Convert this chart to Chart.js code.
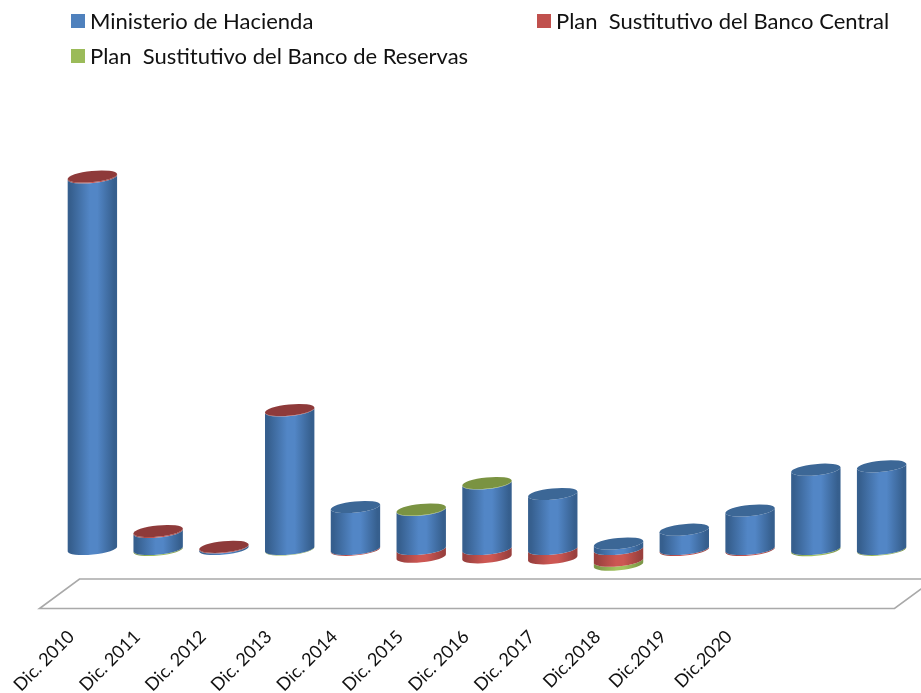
<!DOCTYPE html>
<html><head><meta charset="utf-8">
<style>html,body{margin:0;padding:0;background:#fff}#w{width:921px;height:693px}</style>
<script src="https://cdn.jsdelivr.net/npm/chart.js@4/dist/chart.umd.js"></script>
</head><body><div id="w"><canvas id="c"></canvas></div>
<script>
const categories = ['Dic. 2010','Dic. 2011','Dic. 2012','Dic. 2013','Dic. 2014','Dic. 2015','Dic. 2016','Dic. 2017','Dic.2018','Dic.2019','Dic.2020','',''];
const hacienda = [371.5,17,1.5,138.5,42,39,65.5,55,5.5,19.3,38.5,79.3,82.7];
const central  = [1,1,0.7,0.5,-0.8,-7.7,-8.3,-9.3,-11.7,-1,-1,0,0];
const reservas = [0,-1,0,-0.5,0,0.5,0.5,0,-4,0,0,-1.2,-0.8];
const seriesNames = ['Ministerio de Hacienda','Plan  Sustitutivo del Banco Central','Plan  Sustitutivo del Banco de Reservas'];
const baseColors = ['#4f81bd','#c0504d','#9bbb59'];
const capColors  = ['#3c6796','#8e3a3a','#7a9342'];
const edgeColors = ['#365f8e','#9a403e','#7d9848'];
const lightColors= ['#5286c6','#cc5753','#a3c45f'];
const TILT=-0.1, MINOR=5.6;

function shade(ctx,x,a,i){
  const g=ctx.createLinearGradient(x-a,0,x+a,0);
  g.addColorStop(0,edgeColors[i]);g.addColorStop(.06,edgeColors[i]);
  g.addColorStop(.45,lightColors[i]);g.addColorStop(.6,lightColors[i]);
  g.addColorStop(.94,edgeColors[i]);g.addColorStop(1,edgeColors[i]);
  return g;
}
Chart.BarElement.prototype.draw=function(ctx){
  const top=Math.min(this.y,this.base),bot=Math.max(this.y,this.base);
  if(bot-top<0.05) return;
  const a=this.width/2, i=baseColors.indexOf(this.options.backgroundColor);
  ctx.save();
  ctx.fillStyle=shade(ctx,this.x,a,i);
  ctx.beginPath();
  ctx.ellipse(this.x,bot,a,MINOR,TILT,0,Math.PI);
  ctx.ellipse(this.x,top,a,MINOR,TILT,Math.PI,0,true);
  ctx.closePath();ctx.fill();
  ctx.restore();
};
const scene={
  id:'scene',
  beforeDatasetsDraw(chart){
    const {ctx,chartArea:ca,scales:{y}}=chart;
    const yt=y.getPixelForValue(-30), yb=y.getPixelForValue(-59.5);
    ctx.save();ctx.strokeStyle='#a9a9a9';ctx.lineWidth=1.6;ctx.beginPath();
    ctx.moveTo(ca.left+20,yt);ctx.lineTo(ca.right+20,yt);ctx.lineTo(ca.right-20,yb);
    ctx.lineTo(ca.left-20,yb);ctx.closePath();ctx.stroke();ctx.restore();
  },
  afterDatasetsDraw(chart){
    const ctx=chart.ctx;
    categories.forEach((_,k)=>{
      let top=null,idx=0;
      chart.data.datasets.forEach((d,i)=>{
        if(d.data[k]>0){top=chart.getDatasetMeta(i).data[k];idx=i;}
      });
      if(!top) return;
      ctx.save();ctx.fillStyle=capColors[idx];ctx.beginPath();
      ctx.ellipse(top.x,top.y,top.width/2,MINOR,TILT,0,Math.PI*2);ctx.fill();ctx.restore();
    });
    // leyenda
    const pos=[[71,21],[537,21],[71,56]];
    ctx.save();ctx.font='22px Lato';ctx.textBaseline='middle';
    seriesNames.forEach((n,i)=>{
      ctx.fillStyle=baseColors[i];ctx.fillRect(pos[i][0],pos[i][1]-7,14,14);
      ctx.fillStyle='#111';ctx.fillText(n,pos[i][0]+19,pos[i][1]+1);
    });
    ctx.restore();
  }
};
new Chart(document.getElementById('c'),{
  type:'bar',
  data:{labels:categories,datasets:[
    {label:seriesNames[0],data:hacienda,backgroundColor:baseColors[0]},
    {label:seriesNames[1],data:central,backgroundColor:baseColors[1]},
    {label:seriesNames[2],data:reservas,backgroundColor:baseColors[2]}
  ]},
  options:{
    responsive:true,maintainAspectRatio:false,animation:false,
    layout:{padding:{left:59.5,right:6.5,top:109,bottom:0}},
    barPercentage:.755,categoryPercentage:1,
    plugins:{legend:{display:false},tooltip:{enabled:false}},
    scales:{
      x:{stacked:true,grid:{display:false},border:{display:false},
        afterFit(s){s.height=84;},
        ticks:{autoSkip:false,minRotation:45,maxRotation:45,labelOffset:-21,padding:9,color:'#111',font:{family:'Lato',size:18}}},
      y:{stacked:true,display:false,min:-60,max:440}
    }
  },
  plugins:[scene]
});
</script></body></html>
